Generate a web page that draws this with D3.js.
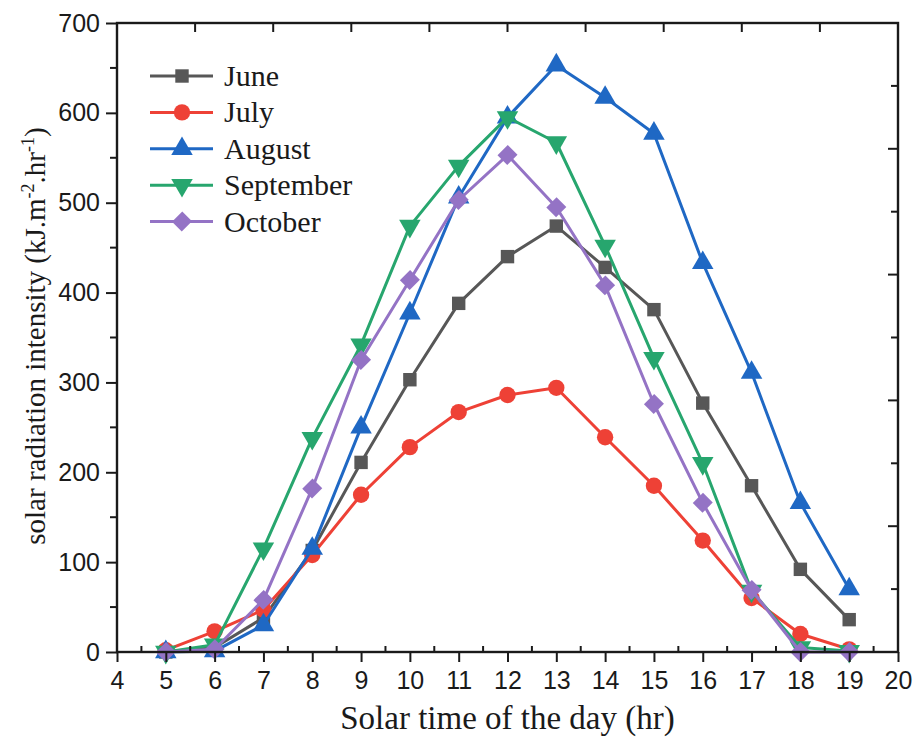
<!DOCTYPE html>
<html>
<head>
<meta charset="utf-8">
<script src="https://cdn.jsdelivr.net/npm/d3@7"></script>
<style>
  body { margin: 0; background: #fff; }
  svg { display: block; }
</style>
</head>
<body>
<div id="chart"></div>
<script>
// hours on x axis
var hours = [5, 6, 7, 8, 9, 10, 11, 12, 13, 14, 15, 16, 17, 18, 19];
var june = [0, 5, 38, 113, 211, 303, 388, 440, 474, 428, 381, 277, 185, 92, 36];
var july = [2, 23, 47, 108, 175, 228, 267, 286, 294, 239, 185, 124, 60, 20, 3];
var august = [0, 1, 30, 115, 250, 377, 506, 595, 653, 617, 577, 433, 311, 166, 70];
var september = [0, 8, 115, 238, 342, 474, 541, 595, 567, 452, 327, 210, 68, 5, 1];
var october = [0, 3, 58, 182, 325, 414, 503, 553, 495, 408, 276, 166, 69, 0, 0];
var seriesNames = ["June", "July", "August", "September", "October"];
var xTicks = d3.range(4, 21, 1);
var yTicks = [0, 100, 200, 300, 400, 500, 600, 700];

var width = 916, height = 749;
var mLeft = 117, mRight = 898, mTop = 23, mBottom = 652;

var colors = ["#575757", "#ee4136", "#1f68c4", "#27a66e", "#9473c5"];
var shapes = [d3.symbolSquare, d3.symbolCircle, d3.symbolTriangle, d3.symbolTriangle, d3.symbolSquare];
var sizes = [180, 210, 200, 200, 190];
var rot = ["", "", "", " rotate(180)", " rotate(45) scale(1,1.05)"];

var data = [june, july, august, september, october].map(function(vals, i){
  return {name: seriesNames[i], values: vals.map(function(v, j){ return {h: hours[j], v: v}; })};
});

var x = d3.scaleLinear().domain([4, 20]).range([mLeft, mRight]);
var y = d3.scaleLinear().domain([0, 700]).range([mBottom, mTop]);

var svg = d3.select("#chart").append("svg")
  .attr("width", width)
  .attr("height", height);

/* lines + markers */
var line = d3.line().x(d => x(d.h)).y(d => y(d.v));

var groups = svg.append("g").selectAll("g")
  .data(data).enter().append("g");

groups.append("path")
  .attr("d", d => line(d.values))
  .attr("fill", "none")
  .attr("stroke", (d, i) => colors[i])
  .attr("stroke-width", 3)
  .attr("stroke-linejoin", "round");

groups.each(function(d, i){
  d3.select(this).selectAll("path.m")
    .data(d.values).enter()
    .append("path")
    .attr("class", "m")
    .attr("d", d3.symbol().type(shapes[i]).size(sizes[i]))
    .attr("transform", p => "translate(" + x(p.h) + "," + y(p.v) + ")" + rot[i])
    .attr("fill", colors[i]);
});

/* axes */
var axisColor = "#1a1a1a";
var xAxis = d3.axisBottom(x).tickValues(xTicks).tickSize(10).tickPadding(9).tickFormat(d3.format("d"));
var gx = svg.append("g").attr("transform", "translate(0," + mBottom + ")").call(xAxis);
gx.selectAll("text").attr("font-family", "Liberation Sans, Arial").attr("font-size", 25).attr("fill", "#1a1a1a");

// minor ticks bottom (inward)
svg.append("g").selectAll("line")
  .data(d3.range(4.5, 20, 1)).enter().append("line")
  .attr("x1", d => x(d)).attr("x2", d => x(d))
  .attr("y1", mBottom).attr("y2", mBottom - 6);

var yAxis = d3.axisLeft(y).tickValues(yTicks).tickSize(11).tickPadding(6);
var gy = svg.append("g").attr("transform", "translate(" + mLeft + ",0)").call(yAxis);
gy.selectAll("text").attr("font-family", "Liberation Sans, Arial").attr("font-size", 25).attr("fill", "#1a1a1a");

// minor ticks left
svg.append("g").selectAll("line")
  .data(d3.range(50, 700, 100)).enter().append("line")
  .attr("x1", mLeft - 7).attr("x2", mLeft)
  .attr("y1", d => y(d)).attr("y2", d => y(d));

// top ticks (10 divisions, inward)
svg.append("g").selectAll("line")
  .data(d3.range(1, 10)).enter().append("line")
  .attr("x1", d => x(4 + d * 1.6)).attr("x2", d => x(4 + d * 1.6))
  .attr("y1", mTop).attr("y2", mTop + 9);

// right ticks (10 divisions, inward)
svg.append("g").selectAll("line")
  .data(d3.range(1, 10)).enter().append("line")
  .attr("x1", d => d % 2 == 0 ? mRight - 10 : mRight - 7).attr("x2", mRight)
  .attr("y1", d => y(d * 70)).attr("y2", d => y(d * 70));

svg.selectAll("line").attr("stroke", axisColor).attr("stroke-width", 2);
svg.selectAll(".domain").remove();
svg.selectAll(".tick line").attr("stroke", axisColor).attr("stroke-width", 2);

// frame
svg.append("rect")
  .attr("x", mLeft).attr("y", mTop)
  .attr("width", mRight - mLeft).attr("height", mBottom - mTop)
  .attr("fill", "none").attr("stroke", axisColor).attr("stroke-width", 2.4);

/* axis titles */
svg.append("text")
  .attr("x", (mLeft + mRight) / 2).attr("y", 729)
  .attr("text-anchor", "middle")
  .attr("font-family", "Liberation Serif, Times New Roman")
  .attr("font-size", 33).attr("fill", "#1a1a1a")
  .text("Solar time of the day (hr)");

var yt = svg.append("text")
  .attr("transform", "translate(45,336) rotate(-90)")
  .attr("text-anchor", "middle")
  .attr("font-family", "Liberation Serif, Times New Roman")
  .attr("font-size", 29).attr("fill", "#1a1a1a");
yt.append("tspan").text("solar radiation intensity (kJ.m");
yt.append("tspan").attr("dy", -11).attr("font-size", 18).text("-2");
yt.append("tspan").attr("dy", 11).text(".hr");
yt.append("tspan").attr("dy", -11).attr("font-size", 18).text("-1");
yt.append("tspan").attr("dy", 11).text(")");

/* legend */
var legend = svg.append("g").selectAll("g")
  .data(data).enter().append("g")
  .attr("transform", (d, i) => "translate(150," + (76 + i * 36.4) + ")");

legend.append("line")
  .attr("x1", 0).attr("x2", 63).attr("y1", 0).attr("y2", 0)
  .attr("stroke", (d, i) => colors[i]).attr("stroke-width", 3);

legend.append("path")
  .attr("d", (d, i) => d3.symbol().type(shapes[i]).size(sizes[i])())
  .attr("transform", (d, i) => "translate(32,0)" + rot[i])
  .attr("fill", (d, i) => colors[i]);

legend.append("text")
  .attr("x", 74).attr("y", 10)
  .attr("font-family", "Liberation Serif, Times New Roman")
  .attr("font-size", 30).attr("fill", "#1a1a1a")
  .text(d => d.name);
</script>
</body>
</html>
